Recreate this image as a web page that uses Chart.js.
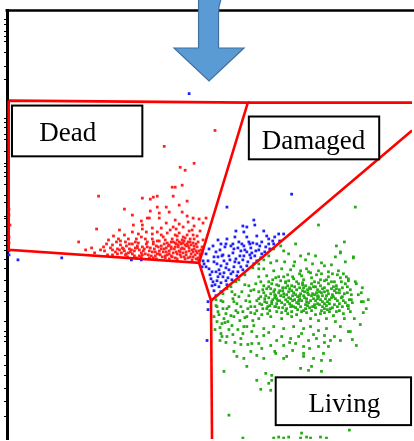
<!DOCTYPE html>
<html><head><meta charset="utf-8">
<script src="https://cdn.jsdelivr.net/npm/chart.js@4/dist/chart.umd.min.js"></script>
<style>html,body{margin:0;padding:0;background:#fff;overflow:hidden}#wrap{width:414px;height:441px;position:relative}</style>
</head><body><div id="wrap"><canvas id="c" width="414" height="441"></canvas></div>
<script>
// ---- data (x = channel 1, y = channel 2, arbitrary units) ----
const gateNames = ['Dead', 'Damaged', 'Living'];

const deadCells = [[208,310],[157,294],[187,277],[173,273],[178,270],[165,253],[168,253],[175,255],[91,244],[135,242],[143,241],[146,243],[150,244],[166,244],[180,239],[172,235],[117,231],[143,229],[150,233],[159,233],[162,228],[180,224],[186,222],[192,221],[199,222],[142,222],[134,219],[152,222],[159,217],[126,215],[135,215],[89,211],[145,212],[154,212],[166,213],[169,211],[176,213],[187,214],[185,210],[139,208],[150,208],[154,205],[160,207],[172,207],[180,205],[134,203],[129,201],[121,201],[101,200],[145,201],[152,199],[158,200],[165,201],[175,200],[187,201],[71,198],[105,195],[113,195],[119,194],[125,196],[130,194],[139,196],[146,196],[154,194],[162,195],[169,196],[172,198],[179,194],[184,195],[189,196],[93,190],[97,189],[105,190],[112,190],[117,189],[122,191],[127,189],[132,190],[137,191],[142,189],[147,191],[152,189],[157,191],[162,189],[167,191],[172,189],[177,191],[182,189],[187,191],[192,189],[110,186],[118,185],[125,186],[132,184],[138,186],[144,184],[150,186],[155,183],[160,185],[165,183],[170,186],[174,183],[179,185],[183,183],[188,185],[191,182],[142,182],[129,182],[149,181],[162,181],[170,181],[178,181],[185,180],[193,184],[195,187],[195,193],[166,198],[170,200],[174,197],[177,199],[181,198],[168,193],[175,192],[182,192],[164,193],[159,192],[149,194],[135,193],[123,188],[114,187],[100,185],[105,185],[87,187],[1,231],[1,225],[1,203],[1,197],[2,215],[106,204],[112,210],[125,225],[152,227],[168,220],[175,228],[182,209],[190,204],[193,209],[109,198],[117,205],[191,198],[156,203],[138,201],
[115,192],[121,187],[128,192],[134,187],[140,193],[145,188],[151,193],[156,188],[161,194],[166,187],[171,193],[176,187],[181,194],[186,188],[190,193],[193,186],[184,186],[173,185],[158,184],[146,182],[135,185],[120,183],[108,188],[178,202],[170,204],[183,201],[186,205],[160,197],[150,199],[140,198],[128,198],[118,198],[125,208],[135,211],[145,206],[163,210],[172,216],[181,218],[196,217],[140,222],[131,206],[111,201],[99,196],[84,192],[78,190],[168,197],[176,197],[162,186],[152,186],[196,200],[189,189],[186,197],[176,203],[168,205],
[96,193],[103,192],[110,191],[116,191],[124,190],[130,192],[136,189],[143,192],[148,188],[154,191],[159,188],[164,191],[169,188],[174,191],[179,188],[185,190],[190,187],[194,190],
[119,186],[127,184],[134,183],[141,185],[148,184],[153,185],[158,182],[164,184],[168,182],[173,188],[177,183],[181,182],[186,183],[189,181],[191,180],
[174,196],[178,195],[183,198],[187,194],[180,196],[171,195],[164,198],[157,196],[146,198],[131,197],[122,196],[113,199]];

const damagedCells = [[182,347],[285,246],[220,233],[247,220],[248,215],[237,208],[250,204],[268,203],[277,206],[211,200],[220,201],[232,198],[242,198],[246,197],[255,198],[259,193],[267,196],[237,194],[234,189],[240,188],[249,189],[255,186],[227,191],[202,191],[199,186],[209,188],[215,184],[222,184],[229,181],[236,180],[244,182],[250,179],[207,178],[214,174],[220,176],[227,173],[234,173],[240,174],[202,171],[209,168],[217,167],[224,166],[230,164],[204,161],[210,159],[219,159],[225,160],[205,154],[212,153],[220,155],[207,149],[214,148],[224,194],[262,201],[273,199],[253,194],[244,192],[217,179],[232,177],[211,183],[201,179],[203,165],[216,163],[222,170],[237,184],[197,176],[199,173],[206,194],[214,196],[228,203],[240,203],[257,209],[240,213],[263,191],[248,184],[209,144],[1,189],[1,185],[10,180],[54,182],[124,180],[134,180],[201,138],[201,130],[200,99],[196,179],[195,173],
[213,190],[218,193],[226,187],[231,192],[238,190],[245,187],[252,190],[258,188],[223,180],[233,184],[241,178],[247,176],[212,170],[219,172],[226,168],[236,170],[205,168],[211,163],[206,158],[214,157],[221,162],[231,168],[243,196],[250,196],[229,209],[236,214],[260,204],[266,199],[272,206],[219,196],[207,183],
[210,176],[216,185],[228,178],[243,185],[254,182],[235,196],[226,196],[262,196],[208,155],[213,166]];

const livingCells = [[330,194],[338,198],[289,196],[277,189],[282,186],[294,184],[302,186],[309,184],[329,183],[347,183],[334,187],[257,180],[264,177],[270,179],[278,178],[288,178],[299,180],[306,176],[315,177],[325,175],[339,178],[257,171],[267,169],[275,171],[284,170],[294,169],[302,168],[312,169],[322,168],[332,169],[252,163],[260,164],[269,162],[277,163],[287,161],[295,164],[305,162],[314,160],[322,163],[334,162],[342,159],[349,158],[242,154],[249,156],[257,154],[265,156],[272,154],[279,158],[285,154],[292,156],[299,154],[305,156],[314,154],[322,156],[330,154],[339,156],[235,148],[244,149],[252,148],
[260,151],[268,150],[276,152],[283,151],[290,150],[297,152],[304,151],[311,150],[318,152],[325,151],[333,150],
[257,147],[264,146],[272,147],[280,145],[287,147],[294,146],[301,147],[308,145],[315,147],[322,146],[330,147],[338,146],
[254,143],[262,142],[269,144],[277,143],[284,141],[291,143],[298,142],[305,144],[312,143],[319,141],[327,143],[335,142],
[250,139],[258,138],[266,140],[273,139],[281,138],[288,140],[295,139],[302,137],[309,139],[316,138],[323,140],[331,139],[339,137],
[255,135],[263,134],[270,136],[278,135],[285,134],[292,136],[299,135],[306,133],[313,135],[320,134],[328,135],
[254,158],[262,158],[282,159],[290,158],[308,158],[318,159],[328,158],
[286,144],[296,149],[300,141],[310,147],[276,149],[292,139],[303,152],[283,136],[316,144],[270,141],[289,132],[299,131],[309,132],[321,130],
[224,153],[229,158],[216,146],[225,148],[214,139],[227,138],[239,139],[209,134],[238,165],[246,172],[252,176],[232,160],[220,151],[242,144],[232,143],[252,171],[262,184],[267,191],[274,194],
[210,133],[220,131],[229,129],[244,133],[250,129],[260,131],[269,133],[279,129],[287,133],[297,129],[307,133],[315,129],[324,131],[330,128],[342,134],[344,128],
[207,123],[217,121],[227,123],[240,123],[252,121],[264,123],[275,121],[285,123],[294,119],[304,121],[312,119],[320,121],[329,118],
[215,116],[225,114],[237,113],[247,114],[257,111],[267,113],[277,111],[287,113],[297,111],[304,113],[312,109],[320,111],[334,113],[342,108],
[214,106],[220,103],[234,101],[250,103],[257,104],[275,103],[284,101],[292,103],[302,99],[310,101],[324,99],[334,99],[350,94],
[252,96],[264,94],[277,94],[289,96],[297,93],[312,93],[322,93],
[227,88],[244,88],[250,84],[269,86],[280,83],[297,86],[297,83],[307,81],[317,86],[230,83],[237,81],[257,81],[277,81],[315,79],[324,79],
[240,73],[294,71],[305,73],[315,68],[217,68],
[250,59],[254,50],[265,64],[265,59],[264,49],[262,56],[259,66],[302,69],[222,24],[295,6],[343,9],[355,138],[344,108],[236,1],
[267,1],[272,2],[277,1],[282,2],[294,1],[300,2],[304,1],[314,2],[320,1],
[349,233],[312,215],[334,188],[347,182],[355,147],[357,138],[342,161],[350,156],
[262,153],[270,155],[279,152],[288,153],[296,155],[307,153],[316,151],[327,153],[336,152],[344,150],
[259,144],[267,148],[274,144],[282,148],[289,145],[298,148],[306,146],[313,148],[320,144],[328,149],[336,143],[345,145],
[252,141],[260,137],[268,142],[275,137],[282,142],[290,137],[297,144],[304,139],[311,141],[318,136],[325,142],[333,136],[343,140],
[248,133],[256,131],[265,136],[272,132],[280,131],[291,130],[301,134],[311,136],[318,131],[326,132],[336,133],[346,137],
[261,126],[270,128],[281,126],[290,125],[300,127],[309,125],[318,127],[327,124],[337,126],[255,125],
[266,160],[274,159],[286,163],[297,160],[310,165],[320,160],[331,165],[340,163],[300,171],[318,174],[287,174],
[211,128],[216,138],[222,133],[230,136],[236,128],[243,138],[247,150],[238,155],[228,145],[213,112],[219,126],[233,119],[246,119],[210,118],[222,110],[236,106],[245,108],[228,97],[241,95],[213,99],[209,140],
[352,145],[356,152],[360,131],[348,121],[354,115],[357,127],[338,121],[346,100],[362,140],
[262,107],[270,99],[283,97],[295,106],[307,105],[318,104],[328,103],[268,88],[286,89],[303,91],[255,91],[245,96],[318,97],
[264,151],[273,149],[281,154],[293,152],[301,150],[309,153],[321,149],[330,151],[341,153],
[256,150],[268,145],[277,146],[285,149],[293,144],[302,145],[311,144],[318,148],[326,145],[333,147],[341,147],
[258,141],[265,138],[271,139],[279,140],[286,139],[293,141],[300,138],[307,141],[314,140],[321,138],[329,141],[337,139],[345,140],
[253,136],[261,133],[268,133],[276,132],[284,133],[294,133],[303,132],[308,135],[316,133],[323,136],[331,133],[341,134],
[263,129],[275,127],[285,128],[295,128],[305,129],[314,126],[323,128],[333,129],[342,131],
[272,163],[281,165],[293,166],[304,167],[315,166],[326,166],[337,166],[279,157],[296,157],[312,157],[325,158],[335,158],
[212,125],[218,117],[224,124],[231,127],[238,122],[244,127],[216,131],[226,141],[234,133],[241,131],[208,110],[215,103],[221,118],[231,110],[240,113],[248,126],[219,97],[226,105],[234,95]];

// gate outlines (same units)
const gateDead = [[0.7,340],[241,338],[192,177],[0.7,190],[0.7,340]];
const gateTop = [[241,338],[406,338]];
const gateDamaged = [[192,177],[204,139],[406,310]];
const gateLiving = [[204,139],[205,0]];

// minor tick positions on the y axis
const yMinorTicks = [421,416,409,404,399,388,374,361,322,318,313,306,301,289,277,274,268,264,256,245,238,224,222,214,204,199,194,189,180,171,159,148,138,118,108,103,98,84,74,64,51,38,23];

// ---- layout / style (not data) ----
const labelLayout = {
  Dead:    {x0:4,   x1:135, y0:335, y1:284, tx:60,  ty:299, size:27},
  Damaged: {x0:242, x1:373, y0:324, y1:281, tx:307, ty:291, size:27},
  Living:  {x0:269, x1:405, y0:62,  y1:14,  tx:338, ty:27,  size:27}
};

const toPts = arr => arr.map(p => ({x:p[0], y:p[1]}));

const decor = {
  id:'decor',
  afterDatasetsDraw(chart){
    const {ctx, chartArea:a, scales:{x, y}} = chart;
    ctx.save();
    ctx.strokeStyle = '#000'; ctx.lineWidth = 2.5;
    ctx.beginPath(); ctx.moveTo(a.left - 1.5, a.top + 0.5); ctx.lineTo(a.right + 2, a.top + 0.5); ctx.stroke();
    gateNames.forEach(n => {
      const L = labelLayout[n];
      const px0 = x.getPixelForValue(L.x0), px1 = x.getPixelForValue(L.x1);
      const py0 = y.getPixelForValue(L.y0), py1 = y.getPixelForValue(L.y1);
      ctx.fillStyle = '#fff';
      ctx.fillRect(px0, py0, px1 - px0, py1 - py0);
      ctx.strokeStyle = '#000'; ctx.lineWidth = 2;
      ctx.strokeRect(px0, py0, px1 - px0, py1 - py0);
      ctx.fillStyle = '#000';
      ctx.font = L.size + 'px "Liberation Serif", "DejaVu Serif", serif';
      ctx.textAlign = 'center'; ctx.textBaseline = 'alphabetic';
      ctx.fillText(n, x.getPixelForValue(L.tx), y.getPixelForValue(L.ty));
    });
    const cx = x.getPixelForValue(202);
    ctx.beginPath();
    ctx.moveTo(cx - 10.5, -3);
    ctx.lineTo(cx - 10.5, 48);
    ctx.lineTo(cx - 35, 48);
    ctx.lineTo(cx, 81);
    ctx.lineTo(cx + 35, 48);
    ctx.lineTo(cx + 9.5, 48);
    ctx.lineTo(cx + 9.5, 14);
    ctx.quadraticCurveTo(cx + 9.5, 4, cx + 13, -3);
    ctx.closePath();
    ctx.fillStyle = '#5b9bd5'; ctx.fill();
    ctx.strokeStyle = '#41719c'; ctx.lineWidth = 1.2; ctx.stroke();
    ctx.restore();
  }
};

function pointSet(label, arr, color){
  return {label, data: toPts(arr), backgroundColor: color, borderWidth: 0, pointStyle: 'rect',
          pointRadius: 1.95, pointHoverRadius: 1.95, order: 2};
}
function gateSet(arr){
  return {label:'gate', data: toPts(arr), showLine:true, borderColor:'#ff0000', borderWidth:2.6,
          pointRadius:0, fill:false, tension:0, order:0};
}

function draw(){
  new Chart(document.getElementById('c'), {
    type:'scatter',
    data:{datasets:[
      pointSet(gateNames[0], deadCells, '#ff2020'),
      pointSet(gateNames[1], damagedCells, '#2020ff'),
      pointSet(gateNames[2], livingCells, '#26ab16'),
      gateSet(gateDead), gateSet(gateTop), gateSet(gateDamaged), gateSet(gateLiving)
    ]},
    options:{
      responsive:false, animation:false, devicePixelRatio:1,
      layout:{padding:{left:4, top:10, right:0, bottom:0}},
      plugins:{legend:{display:false}, tooltip:{enabled:false}},
      scales:{
        x:{type:'linear', min:-1, max:406, display:false},
        y:{type:'linear', min:0, max:431, z:1,
           afterBuildTicks: s => { s.ticks = yMinorTicks.map(v => ({value:v})); },
           ticks:{display:false},
           grid:{drawOnChartArea:false, drawTicks:true, tickLength:3, color:'#000', lineWidth:1},
           border:{display:true, color:'#000', width:3}}
      }
    },
    plugins:[decor]
  });
}
if (document.fonts && document.fonts.load) {
  document.fonts.load('27px "Liberation Serif"').then(draw, draw);
} else draw();
</script>
</body></html>
